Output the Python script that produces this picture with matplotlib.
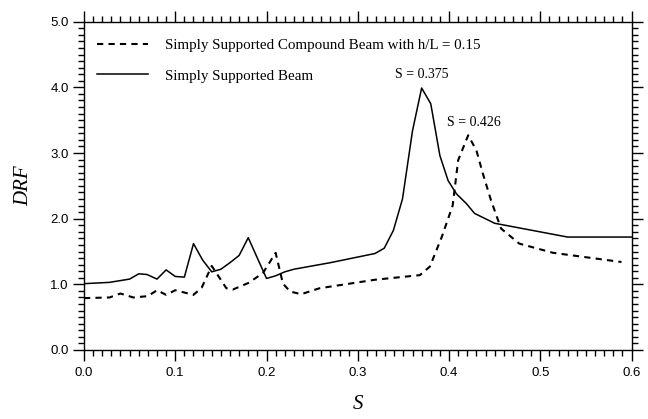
import numpy as np
import matplotlib.pyplot as plt
from matplotlib.ticker import MultipleLocator

# Simply Supported Beam (solid)
s_beam = [0.0, 0.028, 0.05, 0.06, 0.069, 0.08, 0.09, 0.1, 0.11, 0.12, 0.13, 0.14,
          0.15, 0.16, 0.17, 0.18, 0.19, 0.2, 0.21, 0.22, 0.23, 0.25, 0.27, 0.319,
          0.329, 0.339, 0.349, 0.36, 0.37, 0.38, 0.39, 0.399, 0.408, 0.419, 0.428,
          0.45, 0.53, 0.6]
drf_beam = [1.01, 1.03, 1.08, 1.16, 1.15, 1.08, 1.22, 1.12, 1.11, 1.62, 1.37, 1.19,
            1.23, 1.33, 1.44, 1.71, 1.40, 1.09, 1.13, 1.19, 1.23, 1.28, 1.33, 1.47,
            1.55, 1.82, 2.30, 3.34, 3.99, 3.75, 2.96, 2.58, 2.38, 2.23, 2.08,
            1.93, 1.72, 1.72]

# Simply Supported Compound Beam with h/L = 0.15 (dashed)
s_comp = [0.0, 0.028, 0.04, 0.054, 0.07, 0.08, 0.09, 0.1, 0.12, 0.129, 0.14,
          0.156, 0.163, 0.18, 0.196, 0.21, 0.218, 0.226, 0.238, 0.258, 0.319,
          0.368, 0.379, 0.392, 0.404, 0.41, 0.421, 0.43, 0.437, 0.446, 0.457,
          0.477, 0.514, 0.589]
drf_comp = [0.79, 0.80, 0.86, 0.80, 0.82, 0.91, 0.84, 0.91, 0.84, 0.95, 1.28,
            0.94, 0.92, 1.02, 1.17, 1.48, 1.01, 0.89, 0.85, 0.94, 1.07,
            1.14, 1.27, 1.72, 2.20, 2.89, 3.27, 3.04, 2.69, 2.28, 1.85,
            1.62, 1.48, 1.34]

x_ticks = [0.0, 0.1, 0.2, 0.3, 0.4, 0.5, 0.6]
y_ticks = [0.0, 1.0, 2.0, 3.0, 4.0, 5.0]

serif = 'Liberation Serif'
sans = 'Liberation Sans'

fig = plt.figure(figsize=(6.48, 4.19), dpi=100)
ax = fig.add_axes([0.1296, 0.1647, 0.845, 0.7835])

ax.plot(s_comp, drf_comp, color='black', linewidth=1.5, linestyle=(0, (3, 2.5)),
        label='Simply Supported Compound Beam with h/L = 0.15')
ax.plot(s_beam, drf_beam, color='black', linewidth=1.1,
        label='Simply Supported Beam')

ax.text(0.37, 4.1, 'S = 0.375', family=serif, fontsize=10, ha='center', va='bottom')
ax.text(0.427, 3.36, 'S = 0.426', family=serif, fontsize=10, ha='center', va='bottom')

ax.set_xlim(0, 0.6)
ax.set_ylim(0, 5)
ax.set_xticks(x_ticks)
ax.set_xticklabels([f'{v:.1f}' for v in x_ticks], family=sans, fontsize=9.5)
ax.set_yticks(y_ticks)
ax.set_yticklabels([f'{v:.1f}' for v in y_ticks], family=sans, fontsize=9.5)
ax.xaxis.set_minor_locator(MultipleLocator(0.01))
ax.yaxis.set_minor_locator(MultipleLocator(0.1))
ax.tick_params(which='both', direction='out', top=True, right=True, width=1.0, color='black')
ax.tick_params(which='major', length=8, pad=3)
ax.tick_params(axis='x', which='major', pad=4)
ax.tick_params(which='minor', length=4.3)
for sp in ax.spines.values():
    sp.set_linewidth(1.0)

ax.set_xlabel('S', family=serif, style='italic', fontsize=15, labelpad=12)
ax.set_ylabel('DRF', family=serif, style='italic', fontsize=15, labelpad=12)

leg = ax.legend(loc='upper left', frameon=False, prop={'family': serif, 'size': 10.8},
                handlelength=3.4, handletextpad=1.1, labelspacing=1.15,
                bbox_to_anchor=(0.0, 0.99))

fig.savefig('out.png', dpi=100)
